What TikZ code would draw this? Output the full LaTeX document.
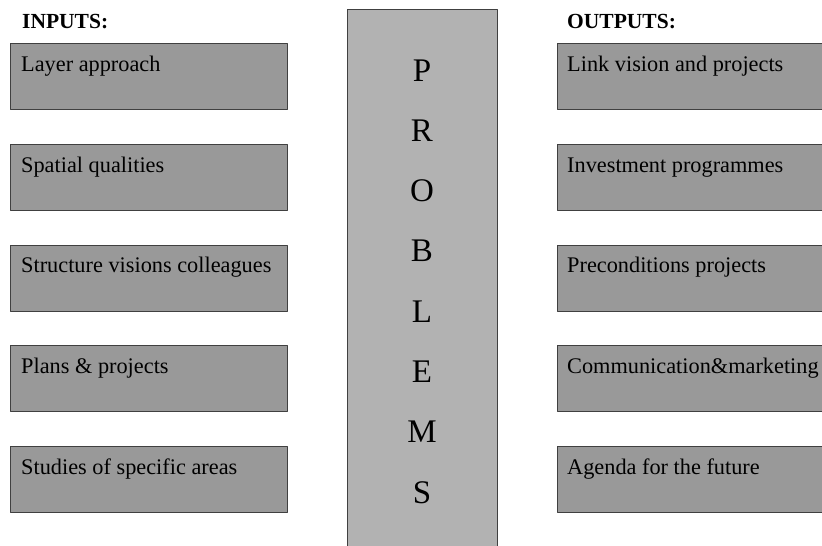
\documentclass[tikz,border=0pt]{standalone}
\usepackage{fontspec}
\setmainfont{Liberation Serif}
\usepackage{pgf,tikz}
\usetikzlibrary{arrows}
\definecolor{zzzzzz}{rgb}{0.6,0.6,0.6}
\definecolor{bdbdbd}{rgb}{0.7,0.7,0.7}
\definecolor{tttttt}{rgb}{0.25,0.25,0.25}
\begin{document}
\begin{tikzpicture}[line cap=round,line join=round,x=1pt,y=-1pt,
		boxtext/.style={anchor=base west,inner sep=0pt,font=\fontsize{22.3}{26}\selectfont},
		headtext/.style={anchor=base west,inner sep=0pt,font=\fontsize{21.5}{25}\selectfont\bfseries},
		lettertext/.style={anchor=base,inner sep=0pt,font=\fontsize{33}{36}\selectfont}]
		\useasboundingbox (0,0) rectangle (822,546);
		% middle column
		\fill[color=tttttt,fill=bdbdbd] (347,9) rectangle (497,560);
		\draw [color=tttttt,line width=1pt] (347,560) -- (347,9) -- (497,9) -- (497,560);
		% input boxes
		\draw [color=tttttt,fill=zzzzzz,line width=1pt] (10.5,43) rectangle (287,109);
		\draw [color=tttttt,fill=zzzzzz,line width=1pt] (10.5,144) rectangle (287,210);
		\draw [color=tttttt,fill=zzzzzz,line width=1pt] (10.5,245) rectangle (287,311);
		\draw [color=tttttt,fill=zzzzzz,line width=1pt] (10.5,345) rectangle (287,411);
		\draw [color=tttttt,fill=zzzzzz,line width=1pt] (10.5,446) rectangle (287,512);
		% output boxes
		\draw [color=tttttt,fill=zzzzzz,line width=1pt] (557,43) rectangle (830,109);
		\draw [color=tttttt,fill=zzzzzz,line width=1pt] (557,144) rectangle (830,210);
		\draw [color=tttttt,fill=zzzzzz,line width=1pt] (557,245) rectangle (830,311);
		\draw [color=tttttt,fill=zzzzzz,line width=1pt] (557,345) rectangle (830,411);
		\draw [color=tttttt,fill=zzzzzz,line width=1pt] (557,446) rectangle (830,512);
		% headings
		\node[headtext] (inputs) at (22,28) {INPUTS:};
		\node[headtext] (outputs) at (567,28) {OUTPUTS:};
		% input texts
		\node[boxtext] (layer) at (21,71) {Layer approach};
		\node[boxtext] (spatial) at (21,172) {Spatial qualities};
		\node[boxtext] (structure) at (21,272) {Structure visions colleagues};
		\node[boxtext] (plans) at (21,373) {Plans \& projects};
		\node[boxtext] (studies) at (21,474) {Studies of specific areas};
		% output texts
		\node[boxtext] (link) at (567,71) {Link vision and projects};
		\node[boxtext] (investment) at (567,172) {Investment programmes};
		\node[boxtext] (preconditions) at (567,272) {Preconditions projects};
		\node[boxtext] (communication) at (567,373) {Communication\&marketing};
		\node[boxtext] (agenda) at (567,474) {Agenda for the future};
		% problems
		\node[lettertext] (lp) at (422,81) {P};
		\node[lettertext] (lr) at (422,141.3) {R};
		\node[lettertext] (lo) at (422,201.6) {O};
		\node[lettertext] (lb) at (422,261.9) {B};
		\node[lettertext] (ll) at (422,322.2) {L};
		\node[lettertext] (le) at (422,382.5) {E};
		\node[lettertext] (lm) at (422,442.8) {M};
		\node[lettertext] (ls) at (422,503) {S};
\end{tikzpicture}
\end{document}
